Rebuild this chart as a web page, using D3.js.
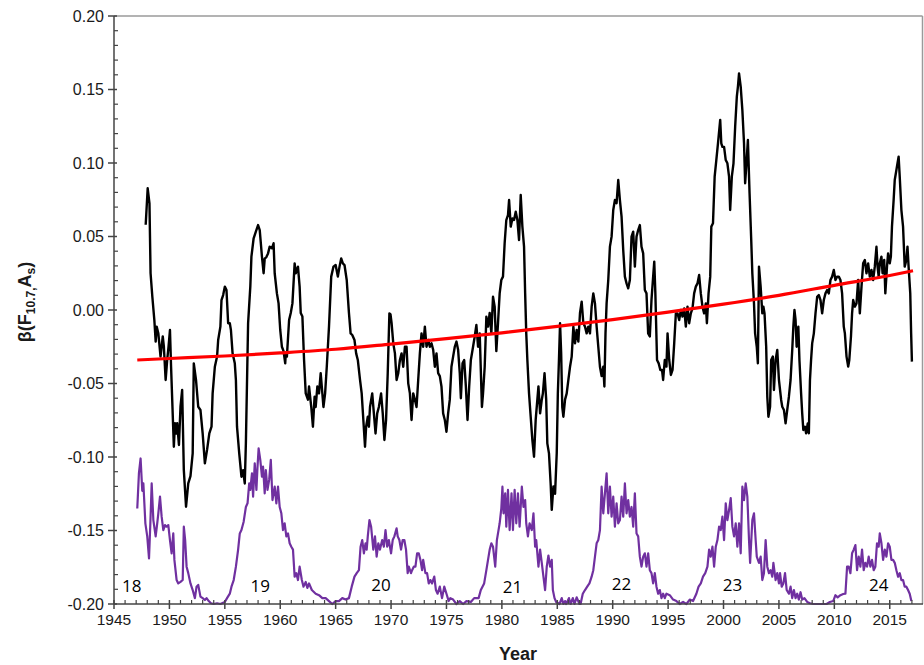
<!DOCTYPE html>
<html>
<head>
<meta charset="utf-8">
<script src="https://cdn.jsdelivr.net/npm/d3@7"></script>
<style>
  html, body { margin: 0; padding: 0; background: #fff; }
  svg { display: block; }
</style>
</head>
<body>
<svg id="chart" width="924" height="665"></svg>
<script>
// β(F10.7, As) correlation, monthly running values [year, beta]
const betaSeries = [
  [1947.86,0.058],[1948.04,0.0828],[1948.2,0.0726],[1948.3,0.025],[1948.46,0.009],[1948.64,-0.0068],
  [1948.76,-0.0215],[1948.85,-0.0113],[1949.0,-0.0159],[1949.2,-0.0317],[1949.4,-0.018],[1949.5,-0.025],
  [1949.66,-0.0476],[1949.8,-0.034],[1949.92,-0.025],[1950.05,-0.0136],[1950.15,-0.0386],[1950.4,-0.093],
  [1950.5,-0.077],[1950.6,-0.084],[1950.7,-0.077],[1950.86,-0.0918],[1951.0,-0.0658],[1951.15,-0.0544],
  [1951.3,-0.1088],[1951.5,-0.1338],[1951.7,-0.118],[1951.9,-0.113],[1952.1,-0.0975],[1952.2,-0.0363],
  [1952.4,-0.0476],[1952.6,-0.0658],[1952.8,-0.068],[1953.0,-0.0839],[1953.2,-0.1043],[1953.4,-0.095],
  [1953.6,-0.084],[1953.8,-0.0794],[1953.9,-0.0567],[1954.1,-0.0386],[1954.3,-0.0317],[1954.4,-0.0204],
  [1954.6,-0.0113],[1954.7,0.0068],[1954.85,0.0102],[1955.0,0.0159],[1955.15,0.0136],[1955.3,-0.009],
  [1955.45,-0.009],[1955.55,-0.0136],[1955.7,-0.0295],[1955.9,-0.0363],[1956.0,-0.0476],[1956.1,-0.0794],
  [1956.3,-0.0975],[1956.5,-0.1134],[1956.65,-0.109],[1956.8,-0.118],[1956.9,-0.0907],[1957.1,-0.009],
  [1957.3,0.0159],[1957.4,0.0363],[1957.6,0.0488],[1957.8,0.0533],[1958.0,0.0578],[1958.15,0.0544],
  [1958.35,0.0363],[1958.5,0.025],[1958.6,0.035],[1958.75,0.036],[1958.9,0.0385],[1959.05,0.0431],
  [1959.25,0.042],[1959.4,0.0454],[1959.5,0.025],[1959.7,0.0113],[1959.85,0.0045],[1960.0,-0.0136],
  [1960.15,-0.025],[1960.3,-0.028],[1960.45,-0.0363],[1960.5,-0.0295],[1960.6,-0.0317],[1960.8,-0.0068],
  [1960.95,-0.002],[1961.1,0.0045],[1961.3,0.0317],[1961.4,0.025],[1961.6,0.0295],[1961.75,0.0159],
  [1961.85,-0.002],[1962.0,-0.0045],[1962.15,-0.034],[1962.3,-0.0567],[1962.5,-0.061],[1962.6,-0.052],
  [1962.8,-0.066],[1962.95,-0.0794],[1963.1,-0.059],[1963.2,-0.066],[1963.35,-0.052],[1963.5,-0.0567],
  [1963.65,-0.043],[1963.8,-0.0567],[1963.9,-0.066],[1964.05,-0.0567],[1964.2,-0.0386],[1964.4,-0.0113],
  [1964.6,0.0227],[1964.8,0.0295],[1965.0,0.0306],[1965.2,0.0227],[1965.35,0.0295],[1965.5,0.0351],
  [1965.65,0.0317],[1965.8,0.0306],[1966.0,0.0204],[1966.2,-0.002],[1966.35,-0.0159],[1966.5,-0.017],
  [1966.7,-0.0204],[1966.85,-0.0295],[1967.0,-0.034],[1967.2,-0.0476],[1967.35,-0.0567],[1967.5,-0.0748],
  [1967.65,-0.093],[1967.75,-0.0794],[1967.9,-0.0726],[1968.0,-0.0794],[1968.1,-0.066],[1968.3,-0.0567],
  [1968.45,-0.0703],[1968.6,-0.084],[1968.75,-0.0703],[1968.9,-0.066],[1969.1,-0.0567],[1969.25,-0.0703],
  [1969.4,-0.0884],[1969.55,-0.0748],[1969.7,-0.043],[1969.85,-0.0023],[1969.95,-0.003],[1970.05,-0.009],
  [1970.2,-0.0227],[1970.35,-0.0295],[1970.5,-0.0476],[1970.65,-0.043],[1970.8,-0.034],[1970.95,-0.0295],
  [1971.1,-0.0386],[1971.25,-0.025],[1971.4,-0.025],[1971.55,-0.0499],[1971.7,-0.0567],[1971.85,-0.0748],
  [1972.0,-0.0567],[1972.15,-0.061],[1972.3,-0.066],[1972.45,-0.0476],[1972.6,-0.0295],[1972.75,-0.0159],
  [1972.9,-0.025],[1973.05,-0.0113],[1973.2,-0.025],[1973.35,-0.0204],[1973.5,-0.025],[1973.65,-0.0227],
  [1973.8,-0.027],[1973.95,-0.0386],[1974.1,-0.0295],[1974.25,-0.043],[1974.4,-0.045],[1974.55,-0.052],
  [1974.7,-0.0703],[1974.85,-0.0748],[1975.0,-0.0828],[1975.15,-0.0703],[1975.3,-0.061],[1975.45,-0.0386],
  [1975.6,-0.0317],[1975.75,-0.025],[1975.9,-0.0215],[1976.05,-0.027],[1976.2,-0.043],[1976.3,-0.06],
  [1976.45,-0.0363],[1976.6,-0.034],[1976.75,-0.052],[1976.9,-0.0748],[1977.05,-0.052],[1977.2,-0.034],
  [1977.4,-0.025],[1977.55,-0.018],[1977.7,-0.0102],[1977.85,-0.025],[1978.0,-0.0159],[1978.2,-0.066],
  [1978.3,-0.0567],[1978.45,-0.0386],[1978.6,-0.0045],[1978.75,-0.0113],[1978.9,-0.002],[1979.05,-0.0159],
  [1979.2,0.009],[1979.35,0.0023],[1979.5,-0.028],[1979.65,-0.009],[1979.8,0.0113],[1979.95,0.0204],
  [1980.1,0.0227],[1980.25,0.0454],[1980.4,0.0612],[1980.55,0.0646],[1980.65,0.0748],[1980.8,0.0567],
  [1980.95,0.0623],[1981.1,0.0612],[1981.25,0.0669],[1981.4,0.0612],[1981.55,0.0476],[1981.7,0.0782],
  [1981.85,0.0567],[1982.0,0.0431],[1982.1,0.0113],[1982.2,-0.0159],[1982.3,-0.034],[1982.45,-0.0567],
  [1982.6,-0.0726],[1982.75,-0.0884],[1982.9,-0.0998],[1983.05,-0.0748],[1983.2,-0.061],[1983.3,-0.052],
  [1983.45,-0.0703],[1983.6,-0.061],[1983.7,-0.0567],[1983.85,-0.043],[1984.0,-0.061],[1984.1,-0.0907],
  [1984.25,-0.0975],[1984.4,-0.118],[1984.5,-0.136],[1984.65,-0.12],[1984.8,-0.125],[1984.95,-0.0975],
  [1985.05,-0.0567],[1985.15,-0.034],[1985.25,-0.009],[1985.35,-0.0295],[1985.45,-0.066],[1985.55,-0.0726],
  [1985.7,-0.061],[1985.85,-0.0567],[1986.0,-0.0476],[1986.15,-0.0386],[1986.3,-0.0317],[1986.45,-0.0113],
  [1986.6,-0.0227],[1986.75,-0.0136],[1986.9,-0.0215],[1987.05,-0.002],[1987.2,0.0057],[1987.35,-0.009],
  [1987.5,-0.0113],[1987.65,-0.0159],[1987.8,-0.0113],[1987.95,-0.0159],[1988.1,0.0023],[1988.25,0.0113],
  [1988.4,0.0045],[1988.55,-0.0113],[1988.7,-0.025],[1988.85,-0.0386],[1989.0,-0.045],[1989.15,-0.0386],
  [1989.25,-0.052],[1989.35,-0.0159],[1989.45,0.0045],[1989.6,0.0204],[1989.75,0.0431],[1989.9,0.0499],
  [1990.05,0.068],[1990.2,0.0748],[1990.35,0.0726],[1990.5,0.0884],[1990.65,0.0748],[1990.8,0.0635],
  [1990.95,0.0408],[1991.1,0.0227],[1991.25,0.0181],[1991.4,0.0147],[1991.55,0.0204],[1991.7,0.0499],
  [1991.85,0.0533],[1992.0,0.0295],[1992.15,0.0499],[1992.3,0.0544],[1992.45,0.0578],[1992.6,0.043],
  [1992.75,0.0385],[1992.9,0.0136],[1993.05,0.0113],[1993.2,-0.0159],[1993.35,-0.018],[1993.5,0.0068],
  [1993.65,0.0227],[1993.75,0.0329],[1993.85,0.0113],[1994.0,-0.034],[1994.15,-0.0363],[1994.3,-0.0408],
  [1994.45,-0.0408],[1994.55,-0.0476],[1994.7,-0.034],[1994.85,-0.0385],[1994.95,-0.0159],[1995.1,-0.034],
  [1995.25,-0.0442],[1995.4,-0.0408],[1995.55,-0.0227],[1995.7,-0.0023],[1995.85,-0.0023],[1996.0,-0.0068],
  [1996.15,0.0],[1996.3,-0.0045],[1996.45,0.0011],[1996.6,-0.0113],[1996.75,0.0023],[1996.9,-0.009],
  [1997.05,-0.0023],[1997.2,0.0011],[1997.35,0.0113],[1997.5,0.0159],[1997.65,0.0181],[1997.8,0.0238],
  [1997.95,0.0113],[1998.1,0.0023],[1998.25,-0.0023],[1998.4,0.0045],[1998.5,-0.009],[1998.65,0.0113],
  [1998.8,0.0227],[1998.9,0.0567],[1999.05,0.059],[1999.2,0.0907],[1999.35,0.102],[1999.5,0.1134],
  [1999.7,0.1293],[1999.8,0.1134],[1999.9,0.111],[2000.05,0.111],[2000.2,0.102],[2000.35,0.0998],
  [2000.5,0.0907],[2000.6,0.068],[2000.75,0.0907],[2000.9,0.0998],[2001.05,0.1247],[2001.2,0.1451],
  [2001.3,0.1519],[2001.4,0.161],[2001.55,0.1519],[2001.7,0.136],[2001.85,0.1134],[2001.95,0.0862],
  [2002.05,0.0975],[2002.2,0.1156],[2002.35,0.0794],[2002.5,0.0476],[2002.6,0.0249],[2002.75,0.0045],
  [2002.85,-0.0159],[2003.0,-0.025],[2003.1,-0.0363],[2003.2,0.0295],[2003.35,0.0159],[2003.5,-0.0023],
  [2003.6,0.0023],[2003.7,-0.0023],[2003.85,-0.025],[2003.95,-0.059],[2004.05,-0.0726],[2004.2,-0.0658],
  [2004.3,-0.034],[2004.45,-0.0317],[2004.55,-0.0544],[2004.7,-0.034],[2004.85,-0.0272],[2005.0,-0.0476],
  [2005.2,-0.0612],[2005.3,-0.0658],[2005.45,-0.068],[2005.6,-0.0771],[2005.75,-0.068],[2005.9,-0.059],
  [2006.05,-0.0476],[2006.2,-0.0272],[2006.3,-0.0113],[2006.4,0.0],[2006.5,-0.0068],[2006.6,-0.025],
  [2006.75,-0.0113],[2006.85,-0.034],[2007.0,-0.0567],[2007.1,-0.0703],[2007.2,-0.0816],[2007.35,-0.0794],
  [2007.45,-0.0839],[2007.6,-0.0771],[2007.7,-0.0839],[2007.8,-0.0476],[2007.9,-0.034],[2008.0,-0.0227],
  [2008.15,-0.0159],[2008.3,-0.0023],[2008.45,0.009],[2008.6,0.0102],[2008.75,0.0068],[2008.9,-0.0023],
  [2009.05,0.0068],[2009.2,0.0113],[2009.35,0.0136],[2009.5,0.0113],[2009.65,0.0204],[2009.8,0.0227],
  [2009.95,0.0272],[2010.1,0.0204],[2010.25,0.0227],[2010.4,0.0227],[2010.55,0.0204],[2010.7,0.0113],
  [2010.85,-0.0113],[2010.95,-0.0159],[2011.1,-0.0317],[2011.25,-0.0385],[2011.35,-0.034],[2011.5,-0.018],
  [2011.6,-0.0023],[2011.7,0.0068],[2011.85,0.0023],[2012.0,0.0045],[2012.15,0.0204],[2012.3,-0.0023],
  [2012.45,0.0159],[2012.6,0.0317],[2012.75,0.034],[2012.9,0.025],[2013.05,0.0317],[2013.2,0.0227],
  [2013.35,0.0272],[2013.5,0.0204],[2013.65,0.0295],[2013.8,0.043],[2013.9,0.0295],[2014.0,0.0227],
  [2014.1,0.0317],[2014.25,0.0363],[2014.35,0.025],[2014.5,0.034],[2014.6,0.0113],[2014.75,0.0295],
  [2014.85,0.0385],[2015.0,0.0317],[2015.1,0.0363],[2015.2,0.0567],[2015.35,0.0748],[2015.45,0.0884],
  [2015.6,0.0952],[2015.7,0.0998],[2015.8,0.1043],[2015.9,0.0907],[2016.05,0.068],[2016.2,0.0567],
  [2016.35,0.0295],[2016.5,0.034],[2016.6,0.0431],[2016.7,0.0295],[2016.85,0.0113],[2016.93,-0.0159],
  [2017.0,-0.0351]
];

// Long-term trend of β [year, beta]
const trendSeries = [
  [1947.1,-0.034],[1950,-0.0330],[1955,-0.0313],[1960,-0.0292],[1965,-0.0267],[1970,-0.0232],
  [1975,-0.0195],[1980,-0.0155],[1985,-0.0112],[1990,-0.0066],[1995,-0.0015],[2000,0.0040],
  [2005,0.0100],[2010,0.0168],[2015,0.0235],[2017.1,0.0267]
];

// Monthly sunspot activity, shown on the β scale [year, level]
const sunspotSeries = [
  [1947.1,-0.135],[1947.25,-0.111],[1947.4,-0.101],[1947.55,-0.123],[1947.65,-0.118],[1947.83,-0.1451],
  [1948.0,-0.154],[1948.16,-0.169],[1948.28,-0.1451],[1948.4,-0.118],[1948.55,-0.1429],[1948.76,-0.154],
  [1948.9,-0.1451],[1949.0,-0.1383],[1949.15,-0.127],[1949.3,-0.1406],[1949.45,-0.1497],[1949.6,-0.1463],
  [1949.75,-0.1474],[1949.9,-0.1463],[1950.05,-0.1565],[1950.2,-0.1655],[1950.35,-0.152],[1950.45,-0.170],
  [1950.65,-0.1837],[1950.8,-0.186],[1951.0,-0.185],[1951.2,-0.1837],[1951.3,-0.1474],[1951.42,-0.1565],
  [1951.55,-0.1746],[1951.7,-0.179],[1951.9,-0.186],[1952.1,-0.1905],[1952.3,-0.196],[1952.45,-0.1882],
  [1952.6,-0.187],[1952.8,-0.195],[1953.0,-0.196],[1953.2,-0.1973],[1953.35,-0.196],[1953.55,-0.198],
  [1953.75,-0.1995],[1954.0,-0.200],[1954.3,-0.1995],[1954.6,-0.200],[1955.0,-0.1986],[1955.2,-0.196],
  [1955.45,-0.193],[1955.6,-0.1882],[1955.8,-0.1837],[1956.0,-0.1746],[1956.2,-0.163],[1956.35,-0.152],
  [1956.5,-0.1497],[1956.7,-0.144],[1956.9,-0.134],[1957.05,-0.1315],[1957.2,-0.118],[1957.3,-0.1224],
  [1957.45,-0.1111],[1957.55,-0.127],[1957.7,-0.1043],[1957.85,-0.1224],[1957.95,-0.1066],[1958.05,-0.0941],
  [1958.2,-0.102],[1958.35,-0.1134],[1958.45,-0.1066],[1958.6,-0.1247],[1958.7,-0.1089],[1958.85,-0.1224],
  [1959.0,-0.1156],[1959.15,-0.102],[1959.3,-0.1293],[1959.5,-0.1202],[1959.65,-0.1315],[1959.8,-0.1202],
  [1959.95,-0.134],[1960.1,-0.1383],[1960.25,-0.1497],[1960.4,-0.1451],[1960.55,-0.154],[1960.7,-0.152],
  [1960.85,-0.1587],[1961.0,-0.161],[1961.15,-0.163],[1961.3,-0.1814],[1961.45,-0.179],[1961.6,-0.1837],
  [1961.75,-0.1746],[1961.95,-0.1837],[1962.1,-0.1882],[1962.3,-0.185],[1962.45,-0.189],[1962.6,-0.186],
  [1962.85,-0.1905],[1963.2,-0.193],[1963.5,-0.194],[1963.8,-0.196],[1964.1,-0.196],[1964.4,-0.198],
  [1964.7,-0.200],[1965.0,-0.198],[1965.3,-0.198],[1965.6,-0.196],[1965.9,-0.197],[1966.2,-0.196],
  [1966.45,-0.1882],[1966.7,-0.1814],[1966.9,-0.179],[1967.1,-0.177],[1967.25,-0.161],[1967.4,-0.1565],
  [1967.55,-0.1655],[1967.7,-0.1587],[1967.8,-0.163],[1967.9,-0.154],[1968.05,-0.1429],[1968.2,-0.1474],
  [1968.4,-0.163],[1968.55,-0.154],[1968.7,-0.1678],[1968.85,-0.1587],[1969.0,-0.163],[1969.2,-0.1565],
  [1969.35,-0.161],[1969.5,-0.1497],[1969.65,-0.161],[1969.8,-0.1565],[1970.0,-0.1655],[1970.15,-0.1565],
  [1970.3,-0.154],[1970.5,-0.1485],[1970.6,-0.154],[1970.75,-0.1565],[1970.9,-0.163],[1971.05,-0.1565],
  [1971.2,-0.1565],[1971.35,-0.163],[1971.5,-0.179],[1971.6,-0.1746],[1971.8,-0.179],[1971.9,-0.177],
  [1972.05,-0.1746],[1972.2,-0.1746],[1972.35,-0.1655],[1972.5,-0.1655],[1972.65,-0.170],[1972.8,-0.177],
  [1972.9,-0.170],[1973.1,-0.179],[1973.25,-0.179],[1973.4,-0.186],[1973.55,-0.1837],[1973.7,-0.186],
  [1973.9,-0.1814],[1974.05,-0.1905],[1974.2,-0.193],[1974.4,-0.1882],[1974.6,-0.196],[1974.8,-0.1882],
  [1975.0,-0.193],[1975.2,-0.198],[1975.35,-0.196],[1975.6,-0.197],[1975.9,-0.200],[1976.2,-0.198],
  [1976.5,-0.200],[1976.8,-0.198],[1977.2,-0.1986],[1977.5,-0.196],[1977.9,-0.196],[1978.1,-0.1905],
  [1978.4,-0.186],[1978.6,-0.177],[1978.9,-0.163],[1979.05,-0.1587],[1979.2,-0.161],[1979.4,-0.1746],
  [1979.55,-0.1565],[1979.8,-0.1451],[1979.95,-0.1349],[1980.05,-0.1202],[1980.15,-0.1383],[1980.3,-0.1247],
  [1980.4,-0.1474],[1980.55,-0.1224],[1980.7,-0.1497],[1980.87,-0.1247],[1981.0,-0.1497],[1981.15,-0.1224],
  [1981.3,-0.1451],[1981.45,-0.1247],[1981.6,-0.1474],[1981.8,-0.1202],[1981.95,-0.134],[1982.1,-0.1293],
  [1982.2,-0.1451],[1982.35,-0.154],[1982.5,-0.1451],[1982.7,-0.1497],[1982.85,-0.1383],[1983.0,-0.161],
  [1983.1,-0.1565],[1983.3,-0.1746],[1983.45,-0.163],[1983.6,-0.172],[1983.75,-0.1814],[1983.9,-0.1905],
  [1984.05,-0.1746],[1984.2,-0.167],[1984.35,-0.1746],[1984.5,-0.170],[1984.6,-0.1905],[1984.75,-0.196],
  [1984.9,-0.1986],[1985.2,-0.200],[1985.4,-0.196],[1985.55,-0.200],[1985.7,-0.198],[1985.8,-0.200],
  [1986.05,-0.196],[1986.2,-0.200],[1986.4,-0.196],[1986.55,-0.200],[1986.75,-0.1955],[1987.0,-0.200],
  [1987.1,-0.200],[1987.3,-0.193],[1987.5,-0.1905],[1987.7,-0.1882],[1987.9,-0.186],[1988.1,-0.1814],
  [1988.25,-0.177],[1988.4,-0.1678],[1988.55,-0.1587],[1988.7,-0.1565],[1988.85,-0.1497],[1989.0,-0.1202],
  [1989.15,-0.1383],[1989.3,-0.1247],[1989.45,-0.1111],[1989.6,-0.1383],[1989.75,-0.1202],[1989.9,-0.1406],
  [1990.05,-0.127],[1990.2,-0.1474],[1990.35,-0.1315],[1990.5,-0.1451],[1990.65,-0.1429],[1990.8,-0.127],
  [1990.95,-0.1406],[1991.1,-0.118],[1991.25,-0.1383],[1991.4,-0.1293],[1991.55,-0.1406],[1991.7,-0.134],
  [1991.85,-0.1474],[1992.0,-0.1247],[1992.15,-0.152],[1992.3,-0.154],[1992.45,-0.1678],[1992.6,-0.1746],
  [1992.75,-0.1678],[1992.9,-0.1655],[1993.05,-0.1746],[1993.2,-0.1655],[1993.35,-0.177],[1993.5,-0.179],
  [1993.65,-0.186],[1993.8,-0.179],[1993.95,-0.1882],[1994.1,-0.193],[1994.25,-0.1905],[1994.4,-0.196],
  [1994.55,-0.193],[1994.7,-0.196],[1994.85,-0.193],[1995.15,-0.194],[1995.45,-0.197],[1995.75,-0.198],
  [1996.05,-0.200],[1996.35,-0.1986],[1996.65,-0.200],[1996.95,-0.197],[1997.25,-0.198],[1997.55,-0.193],
  [1997.75,-0.1882],[1997.95,-0.186],[1998.15,-0.1814],[1998.35,-0.179],[1998.55,-0.1746],[1998.7,-0.163],
  [1998.85,-0.1678],[1999.0,-0.161],[1999.15,-0.1746],[1999.3,-0.161],[1999.45,-0.1565],[1999.6,-0.1474],
  [1999.75,-0.1497],[1999.9,-0.1406],[2000.05,-0.1565],[2000.2,-0.1315],[2000.35,-0.1429],[2000.5,-0.1361],
  [2000.65,-0.128],[2000.8,-0.1474],[2000.95,-0.154],[2001.1,-0.1451],[2001.25,-0.161],[2001.4,-0.1451],
  [2001.55,-0.1655],[2001.7,-0.1202],[2001.85,-0.1293],[2002.0,-0.118],[2002.15,-0.127],[2002.3,-0.1565],
  [2002.4,-0.172],[2002.6,-0.1429],[2002.75,-0.1383],[2002.9,-0.1565],[2003.0,-0.1678],[2003.2,-0.172],
  [2003.35,-0.1678],[2003.5,-0.1837],[2003.65,-0.179],[2003.8,-0.1565],[2003.95,-0.1746],[2004.1,-0.179],
  [2004.25,-0.177],[2004.4,-0.1814],[2004.5,-0.172],[2004.7,-0.1837],[2004.85,-0.179],[2005.0,-0.186],
  [2005.1,-0.179],[2005.25,-0.1882],[2005.4,-0.186],[2005.55,-0.179],[2005.7,-0.1905],[2005.9,-0.193],
  [2006.05,-0.1882],[2006.2,-0.196],[2006.35,-0.1905],[2006.5,-0.196],[2006.65,-0.193],[2006.8,-0.197],
  [2006.95,-0.192],[2007.1,-0.197],[2007.3,-0.196],[2007.55,-0.1986],[2007.8,-0.1995],[2008.1,-0.200],
  [2008.4,-0.200],[2008.7,-0.200],[2009.0,-0.200],[2009.3,-0.200],[2009.6,-0.1986],[2009.9,-0.198],
  [2010.1,-0.194],[2010.3,-0.1955],[2010.55,-0.194],[2010.8,-0.1932],[2011.0,-0.193],[2011.15,-0.1746],
  [2011.3,-0.1746],[2011.45,-0.179],[2011.6,-0.1655],[2011.75,-0.163],[2011.9,-0.1599],[2012.05,-0.177],
  [2012.2,-0.1678],[2012.35,-0.1746],[2012.5,-0.163],[2012.65,-0.177],[2012.8,-0.172],[2012.95,-0.1746],
  [2013.1,-0.1678],[2013.25,-0.1746],[2013.4,-0.170],[2013.55,-0.177],[2013.7,-0.1746],[2013.85,-0.1587],
  [2014.0,-0.161],[2014.1,-0.152],[2014.25,-0.1587],[2014.4,-0.170],[2014.55,-0.163],[2014.7,-0.1678],
  [2014.85,-0.1587],[2015.0,-0.161],[2015.15,-0.170],[2015.3,-0.170],[2015.45,-0.172],[2015.6,-0.177],
  [2015.75,-0.1814],[2015.9,-0.179],[2016.05,-0.1837],[2016.2,-0.1837],[2016.35,-0.1882],[2016.5,-0.1882],
  [2016.65,-0.1905],[2016.8,-0.193],[2016.95,-0.198]
];

// Solar cycle numbers and where each one is written [year, level]
const cycleNumbers = ["18", "19", "20", "21", "22", "23", "24"];
const cycleAnchors = [[1946.6,-0.1918],[1958.2,-0.1918],[1969.1,-0.1912],[1980.95,-0.1925],[1990.8,-0.1905],[2000.8,-0.1912],[2014.0,-0.1912]];

// Axis ticks
const yTicksMajor = [-0.20, -0.15, -0.10, -0.05, 0.00, 0.05, 0.10, 0.15, 0.20];
const xTicksMajor = [1945, 1950, 1955, 1960, 1965, 1970, 1975, 1980, 1985, 1990, 1995, 2000, 2005, 2010, 2015];
const xDomain = [1945, 2018];
const yDomain = [-0.20, 0.20];

const svg = d3.select("#chart");
const plotLeft = 114, plotRight = 923, plotTop = 16, plotBottom = 604;

const x = d3.scaleLinear().domain(xDomain).range([plotLeft, plotRight]);
const y = d3.scaleLinear().domain(yDomain).range([plotBottom, plotTop]);

const font = "'Liberation Sans', Arial, sans-serif";

// Frame: light top and right edges
svg.append("line").attr("x1", plotLeft).attr("x2", plotRight - 0.5).attr("y1", plotTop).attr("y2", plotTop)
  .attr("stroke", "#9a9a9a").attr("stroke-width", 1.5);
svg.append("line").attr("x1", plotRight - 0.5).attr("x2", plotRight - 0.5).attr("y1", plotTop).attr("y2", plotBottom)
  .attr("stroke", "#9a9a9a").attr("stroke-width", 1.5);

// Series
const lineGen = d3.line().x(d => x(d[0])).y(d => y(d[1]));

svg.append("path").datum(sunspotSeries)
  .attr("d", lineGen).attr("fill", "none")
  .attr("stroke", "#7030a0").attr("stroke-width", 2.2).attr("stroke-linejoin", "round");

svg.append("path").datum(betaSeries)
  .attr("d", lineGen).attr("fill", "none")
  .attr("stroke", "#000").attr("stroke-width", 2.4).attr("stroke-linejoin", "round");

svg.append("path").datum(trendSeries)
  .attr("d", d3.line().x(d => x(d[0])).y(d => y(d[1])).curve(d3.curveMonotoneX))
  .attr("fill", "none").attr("stroke", "#ff0000").attr("stroke-width", 3.2);

// Cycle labels
svg.append("g").selectAll("text").data(cycleNumbers).join("text")
  .attr("x", (d, i) => x(cycleAnchors[i][0]))
  .attr("y", (d, i) => y(cycleAnchors[i][1]))
  .attr("text-anchor", "middle")
  .attr("font-family", "'Open Sans', 'Noto Sans', sans-serif")
  .attr("font-size", 17).attr("fill", "#000")
  .text(d => d);

// Y axis
const axisColor = "#444";
const gy = svg.append("g");
gy.append("line").attr("x1", plotLeft).attr("x2", plotLeft).attr("y1", plotTop).attr("y2", plotBottom)
  .attr("stroke", axisColor).attr("stroke-width", 1.5);
const yMinor = d3.range(-20, 21).filter(k => k % 5 !== 0).map(k => k / 100);
gy.selectAll("line.minor").data(yMinor).join("line").attr("class", "minor")
  .attr("x1", plotLeft).attr("x2", plotLeft + 4).attr("y1", d => y(d)).attr("y2", d => y(d))
  .attr("stroke", axisColor).attr("stroke-width", 1.2);
gy.selectAll("line.major").data(yTicksMajor).join("line").attr("class", "major")
  .attr("x1", plotLeft - 6).attr("x2", plotLeft + 3).attr("y1", d => y(d)).attr("y2", d => y(d))
  .attr("stroke", axisColor).attr("stroke-width", 1.5);
gy.selectAll("text").data(yTicksMajor).join("text")
  .attr("x", plotLeft - 10).attr("y", d => y(d) + 5.5)
  .attr("text-anchor", "end").attr("font-family", font).attr("font-size", 16).attr("fill", "#1a1a1a")
  .text(d => d.toFixed(2));

// X axis
const gx = svg.append("g");
gx.append("line").attr("x1", plotLeft).attr("x2", plotRight).attr("y1", plotBottom).attr("y2", plotBottom)
  .attr("stroke", axisColor).attr("stroke-width", 1.5);
const xMinor = d3.range(1946, 2018).filter(v => v % 5 !== 0);
gx.selectAll("line.minor").data(xMinor).join("line").attr("class", "minor")
  .attr("x1", d => x(d)).attr("x2", d => x(d)).attr("y1", plotBottom - 4).attr("y2", plotBottom)
  .attr("stroke", axisColor).attr("stroke-width", 1.2);
gx.selectAll("line.major").data(xTicksMajor).join("line").attr("class", "major")
  .attr("x1", d => x(d)).attr("x2", d => x(d)).attr("y1", plotBottom - 4).attr("y2", plotBottom + 5)
  .attr("stroke", axisColor).attr("stroke-width", 1.5);
gx.selectAll("text").data(xTicksMajor).join("text")
  .attr("x", d => x(d)).attr("y", plotBottom + 21)
  .attr("text-anchor", "middle").attr("font-family", font).attr("font-size", 15.5).attr("fill", "#1a1a1a")
  .text(d => d);

// Axis titles
svg.append("text").attr("x", 518).attr("y", 660).attr("text-anchor", "middle")
  .attr("font-family", font).attr("font-size", 18).attr("font-weight", "bold").attr("fill", "#1a1a1a")
  .text("Year");

const yTitle = svg.append("text")
  .attr("transform", "translate(31,302) rotate(-90)")
  .attr("text-anchor", "middle")
  .attr("font-family", font).attr("font-size", 18).attr("font-weight", "bold").attr("fill", "#1a1a1a");
yTitle.append("tspan").text("β(F");
yTitle.append("tspan").attr("font-size", 12).attr("dy", 4).text("10.7,");
yTitle.append("tspan").attr("dy", -4).text("A");
yTitle.append("tspan").attr("font-size", 12).attr("dy", 4).text("s");
yTitle.append("tspan").attr("dy", -4).text(")");
</script>
</body>
</html>
